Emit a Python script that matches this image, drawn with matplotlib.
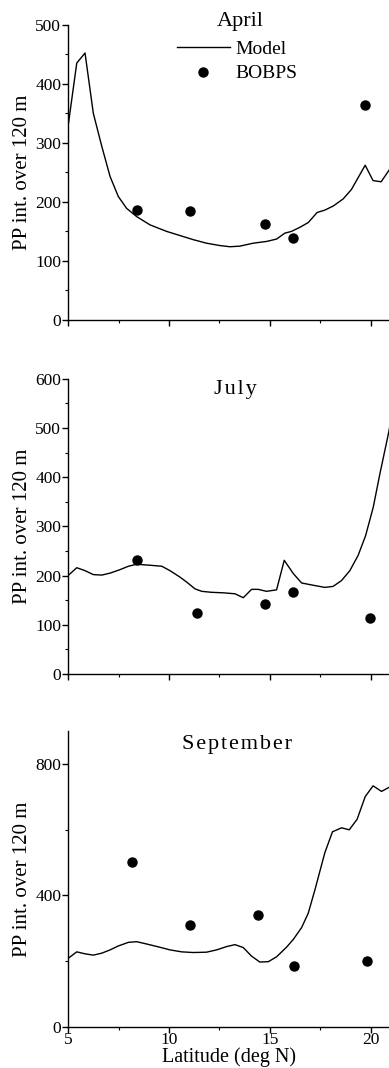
import matplotlib
matplotlib.use("Agg")
import matplotlib.pyplot as plt
from matplotlib.ticker import MultipleLocator

plt.rcParams['font.family'] = ['Liberation Serif', 'DejaVu Serif']

# model curves (latitude, PP integrated over 120 m)
april_lat = [5.0, 5.43, 5.84, 6.25, 6.67, 7.08, 7.49, 7.9, 8.4, 9.06, 9.88, 10.54, 11.2, 11.86,
             12.52, 13.02, 13.51, 14.17, 14.84, 15.33, 15.74, 16.07, 16.49, 16.9, 17.34, 17.72,
             18.14, 18.63, 19.04, 19.72, 20.11, 20.51, 20.89, 21.1]
april_pp = [328, 435, 452, 350, 294, 243, 209, 189, 175, 161, 150, 143, 136, 130,
            126, 124, 125, 130, 133, 137, 147, 150, 157, 165, 182, 186,
            193, 205, 221, 262, 236, 234, 253, 263]

july_lat = [5.0, 5.43, 5.84, 6.25, 6.67, 7.08, 7.57, 7.99, 8.4, 9.06, 9.64, 10.05, 10.54, 10.87,
            11.29, 11.62, 12.11, 12.69, 13.27, 13.68, 14.09, 14.42, 14.83, 15.33, 15.71, 16.16,
            16.57, 17.06, 17.72, 18.13, 18.55, 18.96, 19.37, 19.74, 20.12, 20.45, 20.89, 21.1]
july_pp = [200, 216, 210, 202, 201, 205, 212, 219, 223, 221, 219, 210, 197, 187,
           173, 168, 166, 165, 163, 155, 172, 172, 168, 171, 231, 204,
           185, 181, 176, 178, 190, 210, 241, 281, 339, 407, 492, 540]

sept_lat = [5.0, 5.43, 5.84, 6.25, 6.67, 7.08, 7.49, 7.99, 8.4, 8.89, 9.55, 10.05, 10.63, 11.2,
            11.86, 12.36, 12.85, 13.27, 13.68, 14.09, 14.5, 14.92, 15.33, 15.82, 16.16, 16.57,
            16.9, 17.23, 17.72, 18.1, 18.55, 18.93, 19.32, 19.72, 20.11, 20.53, 20.89, 21.1]
sept_pp = [208, 228, 222, 218, 224, 234, 246, 257, 259, 252, 242, 234, 228, 226,
           227, 234, 244, 250, 241, 215, 197, 198, 213, 242, 266, 302,
           346, 417, 530, 594, 606, 600, 632, 701, 734, 717, 729, 735]

# BOBPS observations
april_obs_lat = [8.40, 11.04, 14.75, 16.16, 19.70]
april_obs_pp = [186, 184, 163, 138, 364]
july_obs_lat = [8.40, 11.37, 14.75, 16.16, 19.95]
july_obs_pp = [231, 124, 143, 166, 114]
sept_obs_lat = [8.18, 11.04, 14.39, 16.20, 19.82]
sept_obs_pp = [502, 309, 340, 185, 200]

months = ["April", "July", "September"]
titles = ["April", "\u200a".join("July"), "\u200a".join("September")]
ylims = [500, 600, 900]
ymajor = [100, 100, 400]
yminor = [50, 50, 200]

fig = plt.figure(figsize=(3.89, 10.68), dpi=100)
bottoms = [0.7004, 0.3689, 0.0387]
height = 0.2765

model = [(april_lat, april_pp), (july_lat, july_pp), (sept_lat, sept_pp)]
obs = [(april_obs_lat, april_obs_pp), (july_obs_lat, july_obs_pp), (sept_obs_lat, sept_obs_pp)]

for i in range(3):
    ax = fig.add_axes([0.175, bottoms[i], 0.825, height])
    ax.plot(model[i][0], model[i][1], color="black", lw=1.0, label="Model")
    ax.plot(obs[i][0], obs[i][1], "o", color="black", ms=6.5, label="BOBPS")
    ax.set_xlim(5, 20.9)
    ax.set_ylim(0, ylims[i])
    ax.spines["top"].set_visible(False)
    ax.spines["right"].set_visible(False)
    ax.spines["left"].set_linewidth(1.0)
    ax.spines["bottom"].set_linewidth(1.0)
    ax.xaxis.set_major_locator(MultipleLocator(5))
    ax.xaxis.set_minor_locator(MultipleLocator(2.5))
    ax.yaxis.set_major_locator(MultipleLocator(ymajor[i]))
    ax.yaxis.set_minor_locator(MultipleLocator(yminor[i]))
    ax.tick_params(which="major", length=4, width=1.0, pad=1, labelsize=12.5)
    ax.tick_params(axis="x", which="major", pad=0)
    ax.tick_params(which="minor", length=2.5, width=0.8)
    ax.set_ylabel("PP int. over 120 m", fontsize=15, labelpad=2)
    if i < 2:
        ax.set_xticklabels([])
    else:
        ax.set_xlabel("Latitude (deg N)", fontsize=14.5, labelpad=-1)
    ty = [1.012, 0.965, 0.955][i]
    tx = [0.536, 0.52, 0.525][i]
    ax.text(tx, ty, titles[i], transform=ax.transAxes, ha="center", va="center", fontsize=16)
    if i == 0:
        ax.legend(loc="upper left", bbox_to_anchor=(0.34, 0.947), frameon=False, fontsize=14,
                  handlelength=2.7, handletextpad=0.3, labelspacing=0.35, borderpad=0,
                  borderaxespad=0)

plt.savefig("out.png", dpi=100)
